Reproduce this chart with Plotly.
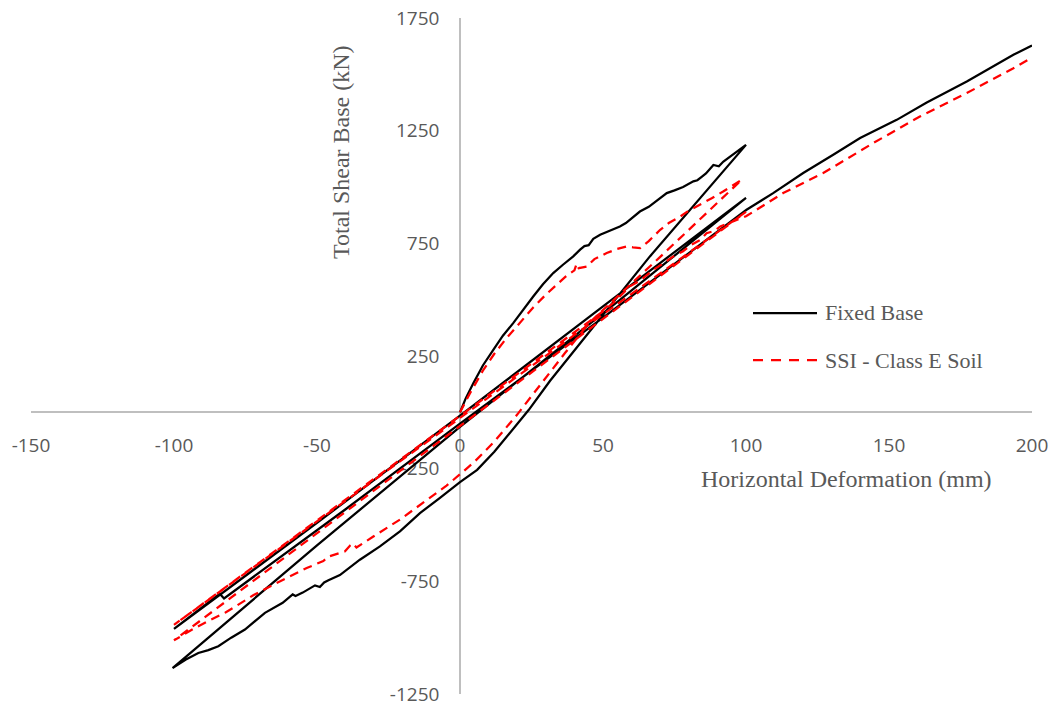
import plotly.graph_objects as go

# ---------------- Fixed Base (black) branches ----------------
fb_b1_x = [0, 2, 4.7, 8, 11.7, 15, 18.6, 22, 25.6, 29, 32.6, 36, 39.6, 42, 43.5, 45, 46.6, 49, 51, 53,
           55.9, 58, 60, 62.9, 66, 69, 72.3, 75, 78, 81.6, 83, 84.5, 86, 88.6, 90.5, 92.1, 95, 97.5, 100]
fb_b1_y = [0, 62, 130, 208, 278, 340, 396, 455, 514, 568, 618, 655, 692, 722, 738, 742, 770, 788, 798, 808,
           825, 840, 862, 891, 912, 940, 973, 985, 1000, 1025, 1030, 1045, 1060, 1098, 1092, 1113, 1140, 1165, 1187]

fb_b2_x = [100, 66.4, 45, 36, 31.5, 24, 18, 12, 6, 0, -7, -14, -21, -28, -35, -42, -46, -47.5, -49, -50.7,
           -55, -57.5, -58.5, -62, -68.2, -75.2, -80, -84.5, -88, -91.5, -96, -100.5]
fb_b2_y = [1187, 692, 355, 215, 140, 10, -85, -175, -255, -310, -380, -447, -528, -595, -654, -722, -745, -755,
           -775, -768, -800, -815, -808, -845, -890, -964, -1000, -1038, -1055, -1068, -1098, -1135]

fb_b3_x = [-100.5, -50, 0, 56, 100]
fb_b3_y = [-1135, -590, -65, 500, 952]

fb_b4_x = [100, 50, 0, -50, -100]
fb_b4_y = [952, 470, -15, -490, -961]

fb_b5_x = [-100, -84, -82.5, -40, 0, 50, 100.2, 109.5, 120, 130.5, 139.9, 152.7, 163.2, 177.2, 193.5, 200]
fb_b5_y = [-961, -805, -826, -430, -50, 420, 899, 973, 1062, 1143, 1217, 1298, 1375, 1468, 1587, 1628]

# ---------------- SSI - Class E Soil (red) branches ----------------
ssi_b1_x = [0, 3.5, 8, 12, 16.3, 20, 25.6, 30, 33.8, 37, 40, 40.8, 41.5, 44.3, 47, 51.3, 55, 58.3, 60.5, 63,
            66, 70, 73, 77, 80, 84, 88, 92, 95, 98.5]
ssi_b1_y = [0, 85, 185, 260, 330, 385, 465, 522, 568, 603, 630, 660, 640, 647, 680, 707, 725, 736, 732, 729,
            760, 810, 840, 869, 895, 921, 950, 980, 1005, 1032]

ssi_b2_x = [98.5, 70, 51.3, 45, 36.7, 26.8, 20, 12, 5, 0, -4.7, -11.7, -21, -30.3, -36.2, -37.5, -38.5, -40.2,
            -46, -47.8, -53.6, -64.1, -72.3, -79.3, -82, -88.6, -92.7, -100]
ssi_b2_y = [1032, 690, 470, 395, 263, 100, -10, -130, -220, -275, -325, -390, -476, -551, -600, -582, -592, -617,
            -640, -660, -691, -757, -812, -868, -888, -930, -957, -1012]

ssi_b3_x = [-100, -50, 0, 50, 100]
ssi_b3_y = [-1012, -535, -60, 415, 890]

ssi_b4_x = [100, 50, 0, -50, -100]
ssi_b4_y = [890, 435, -25, -485, -943]

ssi_b5_x = [-100, -50, 0, 50, 54, 59.4, 63, 67.6, 71, 74.6, 78, 81, 84, 86.2, 89, 91, 95, 100,
            113, 127, 144.5, 160.8, 177.2, 193.5, 200]
ssi_b5_y = [-943, -480, -16, 448, 490, 559, 585, 633, 660, 692, 715, 744, 765, 795, 805, 825, 845, 870,
            973, 1062, 1195, 1313, 1417, 1527, 1575]

x_ticks = [-150, -100, -50, 0, 50, 100, 150, 200]
y_ticks = [-1250, -750, -250, 250, 750, 1250, 1750]

series_names = ["Fixed Base", "SSI - Class E Soil"]

fixed_x = fb_b1_x + fb_b2_x + fb_b3_x + fb_b4_x + fb_b5_x
fixed_y = fb_b1_y + fb_b2_y + fb_b3_y + fb_b4_y + fb_b5_y
ssi_x = ssi_b1_x + ssi_b2_x + ssi_b3_x + ssi_b4_x + ssi_b5_x
ssi_y = ssi_b1_y + ssi_b2_y + ssi_b3_y + ssi_b4_y + ssi_b5_y

GRAY = "#595959"
AXIS = "#BFBFBF"
SERIF = "Liberation Serif, Times New Roman, serif"
SANS = "Open Sans, Liberation Sans, sans-serif"

fig = go.Figure()
fig.add_trace(go.Scatter(x=fixed_x, y=fixed_y, mode="lines", name=series_names[0],
                         line=dict(color="#000000", width=2.25), showlegend=False))
fig.add_trace(go.Scatter(x=ssi_x, y=ssi_y, mode="lines", name=series_names[1],
                         line=dict(color="#FF0000", width=2.25, dash="9px,6px"), showlegend=False))

W, H = 1055, 707
L, R, T, B = 31, 23, 18, 13
pw, ph = W - L - R, H - T - B


def px_to_paper(px, py):
    return (px - L) / pw, (H - B - py) / ph


fig.update_layout(
    width=W, height=H,
    margin=dict(l=L, r=R, t=T, b=B, autoexpand=False),
    plot_bgcolor="white", paper_bgcolor="white",
    showlegend=False,
    xaxis=dict(range=[-150, 200], tickvals=x_ticks, ticktext=[str(v) for v in x_ticks],
               anchor="free", position=1250 / 3000, showline=True, linecolor=AXIS, linewidth=1.5,
               showgrid=False, zeroline=False, ticks="", layer="below traces", automargin=False,
               tickfont=dict(family=SANS, size=19, color=GRAY), ticklabelstandoff=16),
    yaxis=dict(range=[-1250, 1750], tickvals=y_ticks, ticktext=[str(v) for v in y_ticks],
               anchor="free", position=150 / 350, showline=True, linecolor=AXIS, linewidth=1.5,
               showgrid=False, zeroline=False, ticks="", layer="below traces", automargin=False,
               tickfont=dict(family=SANS, size=19, color=GRAY), ticklabelstandoff=16),
)

# axis titles
tx, ty = px_to_paper(341, 152)
fig.add_annotation(xref="paper", yref="paper", x=tx, y=ty, text="Total Shear Base (kN)", textangle=-90,
                   showarrow=False, font=dict(family=SERIF, size=24, color=GRAY), xanchor="center", yanchor="middle")
tx, ty = px_to_paper(846, 479)
fig.add_annotation(xref="paper", yref="paper", x=tx, y=ty, text="Horizontal Deformation (mm)",
                   showarrow=False, font=dict(family=SERIF, size=24, color=GRAY), xanchor="center", yanchor="middle")

# legend (drawn manually to match the long line samples)
for i, (name, color, dash) in enumerate([(series_names[0], "#000000", "solid"),
                                         (series_names[1], "#FF0000", "10px,8px")]):
    ypx = 313 + i * 47
    x0, yy = px_to_paper(753, ypx)
    x1, _ = px_to_paper(817, ypx)
    fig.add_shape(type="line", xref="paper", yref="paper", x0=x0, x1=x1, y0=yy, y1=yy,
                  line=dict(color=color, width=2.25, dash=dash))
    xt, _ = px_to_paper(823, ypx)
    fig.add_annotation(xref="paper", yref="paper", x=xt, y=yy, text=name, showarrow=False,
                       font=dict(family=SERIF, size=22, color=GRAY), xanchor="left", yanchor="middle")

fig.write_html("out.html")
